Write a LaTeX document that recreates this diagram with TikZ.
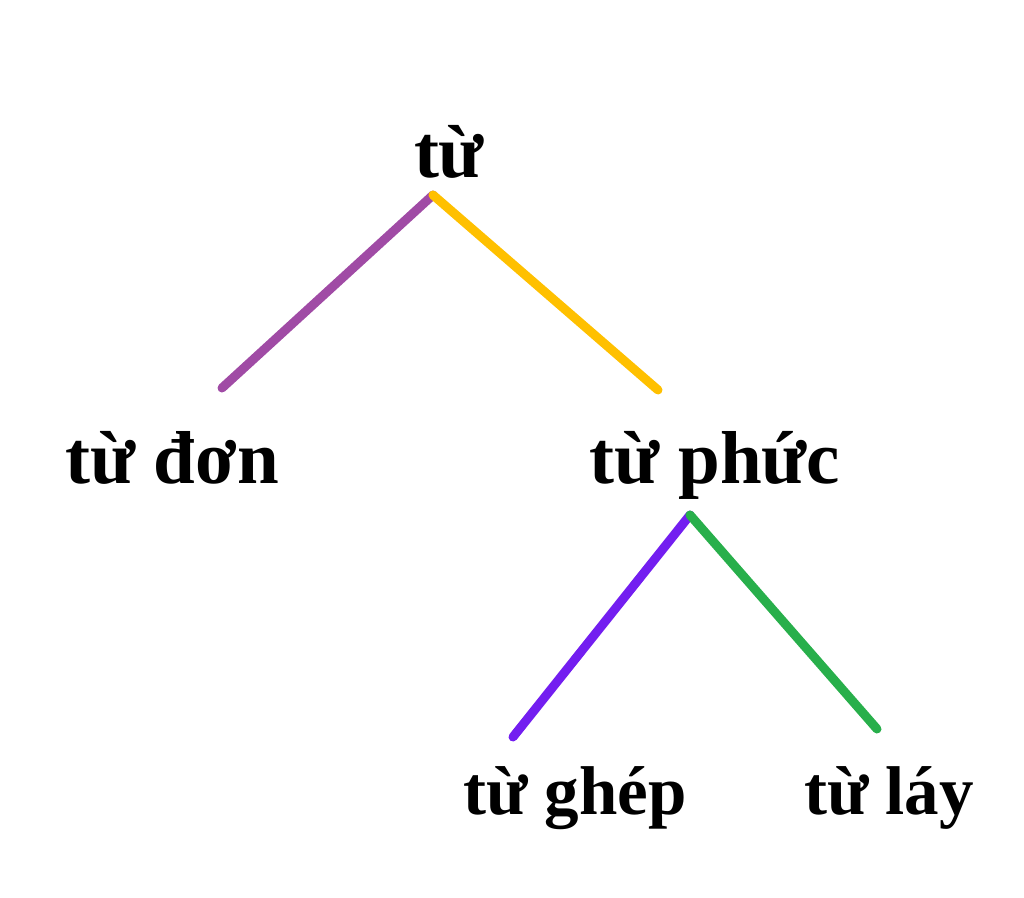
\documentclass[tikz,border=0pt]{standalone}
\usepackage{fontspec}
\setmainfont{Liberation Serif}
\usepackage{xcolor}
\definecolor{treepurple}{RGB}{160,75,165}
\definecolor{treeyellow}{RGB}{255,192,0}
\definecolor{treeviolet}{RGB}{115,30,240}
\definecolor{treegreen}{RGB}{40,175,75}
\tikzset{
  word/.style={inner sep=0pt,anchor=base,font=\fontsize{75}{80}\selectfont\bfseries},
  lowword/.style={word,font=\fontsize{69}{74}\selectfont\bfseries},
  branch/.style={line width=9pt,line cap=round}
}
\begin{document}
\begin{tikzpicture}[x=1pt,y=-1pt]
    \useasboundingbox (0,0) rectangle (1024,897);
    \node[word] (tu) at (449,177) {từ};
    \node[word] (tudon) at (172,483) {từ đơn};
    \node[word] (tuphuc) at (715,483) {từ phức};
    \node[lowword] (tughep) at (575,814) {từ ghép};
    \node[lowword] (tulay) at (889,814) {từ láy};
    % branch ends
    \coordinate (top) at (433,195);
    \coordinate (don) at (222,388);
    \coordinate (phuc) at (658,390);
    \coordinate (mid) at (690,515);
    \coordinate (ghep) at (513,737);
    \coordinate (lay) at (877,729);
    \draw[branch,treepurple] (top) -- (don);
    \draw[branch,treeyellow] (top) -- (phuc);
    \draw[branch,treeviolet] (mid) -- (ghep);
    \draw[branch,treegreen] (mid) -- (lay);
\end{tikzpicture}
\end{document}
